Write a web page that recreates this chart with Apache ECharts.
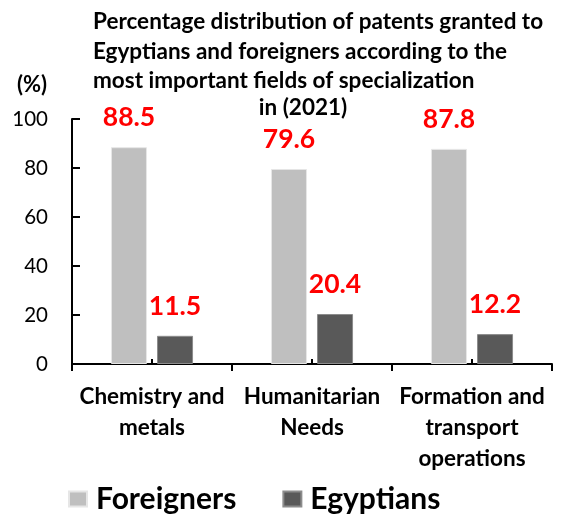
<!DOCTYPE html>
<html>
<head>
<meta charset="utf-8">
<script src="https://cdn.jsdelivr.net/npm/echarts@6/dist/echarts.min.js"></script>
<style>html,body{margin:0;padding:0;background:#fff}#c{width:562px;height:515px}</style>
</head>
<body>
<div id="c"></div>
<script>
const categories = ['Chemistry and\nmetals', 'Humanitarian\nNeeds', 'Formation and\ntransport\noperations'];
const foreigners = [88.5, 79.6, 87.8];
const egyptians = [11.5, 20.4, 12.2];
const seriesNames = ['Foreigners', 'Egyptians'];
const yTicks = [0, 20, 40, 60, 80, 100];

const FONT = 'Lato';
const chart = echarts.init(document.getElementById('c'), null, {renderer: 'canvas'});
const labelStyle = {
  show: true, position: 'top', distance: 16,
  color: '#ff0000', fontWeight: 'bold', fontSize: 26.5, fontFamily: FONT
};
chart.setOption({
  animation: false,
  backgroundColor: '#ffffff',
  title: [
    {
      text: 'Percentage distribution of patents granted to\nEgyptians and foreigners according to the\nmost important fields of specialization',
      left: 93, top: 7, padding: 0,
      textStyle: {fontFamily: FONT, fontWeight: 'bold', fontSize: 22.5, lineHeight: 29.5, color: '#000'}
    },
    {
      text: 'in (2021)', left: 303, top: 93, textAlign: 'center', padding: 0,
      textStyle: {fontFamily: FONT, fontWeight: 'bold', fontSize: 22.5, lineHeight: 30, color: '#000'}
    },
    {
      text: '(%)', left: 17, top: 70, padding: 0,
      textStyle: {fontFamily: FONT, fontWeight: 'bold', fontSize: 22, lineHeight: 30, color: '#000'}
    }
  ],
  legend: {
    data: seriesNames,
    top: 484, left: 68, padding: 0,
    itemWidth: 18, itemHeight: 15, itemGap: 46,
    icon: 'rect',
    textStyle: {fontFamily: FONT, fontWeight: 'bold', fontSize: 30, color: '#000', padding: [0, 0, 0, 4]}
  },
  grid: {left: 72, right: 10, top: 119, bottom: 151, containLabel: false},
  xAxis: [
    {
      type: 'category', data: categories,
      axisLine: {lineStyle: {color: '#000', width: 2}},
      axisTick: {show: true, inside: false, length: 7, lineStyle: {color: '#000', width: 2}},
      axisLabel: {fontFamily: FONT, fontWeight: 'bold', fontSize: 22.5, lineHeight: 31, color: '#000', margin: 17, interval: 0}
    },
    {
      type: 'category', data: categories, position: 'bottom',
      axisLine: {show: false}, axisLabel: {show: false}, splitLine: {show: false},
      axisTick: {show: true, inside: true, alignWithLabel: true, length: 5, lineStyle: {color: '#000', width: 2}}
    }
  ],
  yAxis: {
    type: 'value', min: 0, max: 100, interval: 20,
    axisLine: {show: true, lineStyle: {color: '#000', width: 2}},
    axisTick: {show: true, inside: true, length: 8, lineStyle: {color: '#000', width: 2}},
    splitLine: {show: false},
    axisLabel: {fontFamily: FONT, fontSize: 20.5, color: '#000', margin: 24,
      formatter: v => yTicks.includes(v) ? String(v) : ''}
  },
  series: [
    {
      name: seriesNames[0], type: 'bar', data: foreigners, barWidth: 36, barGap: '28%',
      itemStyle: {color: '#bfbfbf', borderColor: '#e6e6e6', borderWidth: 1},
      label: labelStyle
    },
    {
      name: seriesNames[1], type: 'bar', data: egyptians, barWidth: 36,
      itemStyle: {color: '#595959', borderColor: '#8c8c8c', borderWidth: 1},
      label: labelStyle
    }
  ]
});
</script>
</body>
</html>
